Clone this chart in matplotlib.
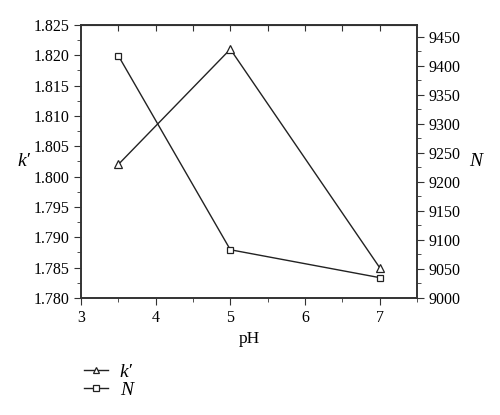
import matplotlib
matplotlib.use("Agg")
from matplotlib import pyplot as plt
from matplotlib.ticker import MultipleLocator, FormatStrFormatter

ph = [3.5, 5, 7]
k_prime = [1.802, 1.821, 1.785]
plates = [9417, 9083, 9035]

plt.rcParams["font.family"] = ["Liberation Serif", "DejaVu Serif"]
plt.rcParams["font.size"] = 11

fig = plt.figure(figsize=(5, 4.15), dpi=100)
ax = fig.add_axes([0.162, 0.282, 0.672, 0.658])
ax2 = ax.twinx()

l1, = ax.plot(ph, k_prime, color="#222222", lw=1, marker="^", ms=6,
              mfc="white", mec="#222222", mew=0.9)
l2, = ax2.plot(ph, plates, color="#222222", lw=1, marker="s", ms=4.5,
               mfc="white", mec="#222222", mew=0.9)

ax.set_xlim(3, 7.5)
ax.set_ylim(1.780, 1.825)
ax2.set_ylim(9000, 9470)

ax.xaxis.set_major_locator(MultipleLocator(1))
ax.xaxis.set_minor_locator(MultipleLocator(0.5))
ax.yaxis.set_major_locator(MultipleLocator(0.005))
ax.yaxis.set_minor_locator(MultipleLocator(0.0025))
ax.yaxis.set_major_formatter(FormatStrFormatter("%.3f"))
ax2.yaxis.set_major_locator(MultipleLocator(50))
ax2.yaxis.set_minor_locator(MultipleLocator(25))

for a in (ax, ax2):
    a.tick_params(which="both", direction="out", color="#333333", labelsize=11.5)
    a.tick_params(which="major", length=5)
    a.tick_params(which="minor", length=3)
    for s in a.spines.values():
        s.set_color("#333333")
        s.set_linewidth(1.2)

# top mirror ticks pointing inward
top = ax.secondary_xaxis("top")
top.set_xticks([3.5, 4, 4.5, 5, 5.5, 6, 6.5, 7])
top.tick_params(direction="in", length=4, labeltop=False, color="#333333")

ax.set_xlabel("pH", fontsize=12.5)
ax.set_ylabel("k\u2032", fontsize=14, style="italic", rotation=0, va="center")
ax2.set_ylabel("N", fontsize=14, style="italic", rotation=0, va="center")
ax.yaxis.set_label_coords(-0.17, 0.5)
ax2.yaxis.set_label_coords(1.175, 0.5)

leg = fig.legend([l1, l2], ["k\u2032", "N"], loc="upper left",
                 bbox_to_anchor=(0.152, 0.144), frameon=False,
                 handlelength=1.25, handletextpad=0.6, labelspacing=0.05,
                 borderaxespad=0, prop={"style": "italic", "size": 14})
for h in leg.legend_handles:
    h.set_markersize(5)

fig.savefig("out.png", dpi=100)
